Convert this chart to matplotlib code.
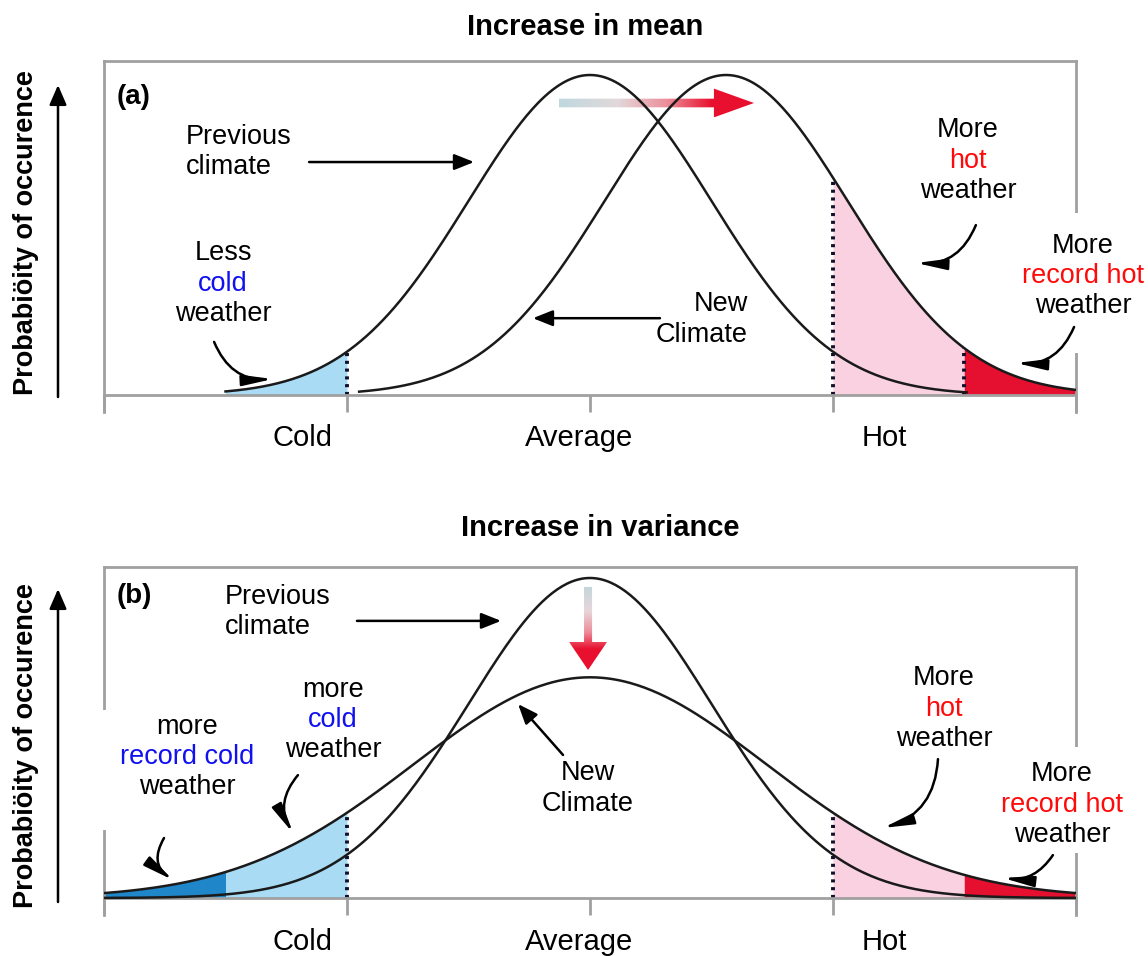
import numpy as np
import matplotlib
matplotlib.use('Agg')
import matplotlib.pyplot as plt
from matplotlib.patches import Polygon, Rectangle
from matplotlib.colors import LinearSegmentedColormap

plt.rcParams['font.family'] = ['Liberation Sans', 'DejaVu Sans']

# ---------------- data ----------------
tick_positions = [-2, -1, 0, 1, 2]
tick_labels = ['Cold', 'Average', 'Hot']
panel_titles = ['Increase in mean', 'Increase in variance']
panel_letters = ['(a)', '(b)']
ylabel_text = 'Probabiöity of occurence'

# bell curves: (mean, standard deviation) in tick units
prev_mean, prev_sd = 0.0, 0.5
new_mean_a, new_sd_a = 0.56, 0.5
new_mean_b, new_sd_b = 0.0, 0.725
# drawn extent of each curve
prev_span_a = (-1.5, 1.55)
new_span_a = (-0.95, 2.0)
span_b = (-2.0, 2.0)
# thresholds
cold_thr, hot_thr = -1.0, 1.0
record_cold_thr, record_hot_thr = -1.5, 1.54

# colours
LIGHT_BLUE = '#a9dcf4'
DARK_BLUE = '#1f87c9'
PINK = '#f9d1e1'
RED = '#e5102f'
TXT_BLUE = '#1010f0'
TXT_RED = '#ff0a0a'
GRAY = '#a0a0a0'
INK = '#1a1a1a'


def bell(x, mu, sd):
    return (prev_sd / sd) * np.exp(-0.5 * ((x - mu) / sd) ** 2)


W, H = 1148, 956
fig = plt.figure(figsize=(W / 100, H / 100), dpi=100)
fig.patch.set_facecolor('white')

ax_a = fig.add_axes([104 / W, 1 - 412 / H, 972 / W, 351 / H])
ax_b = fig.add_axes([104 / W, 1 - 915 / H, 972 / W, 348 / H])
ax_a.set_ylim(-17 / 320, 334 / 320)
ax_b.set_ylim(-17 / 320, 331 / 320)

for ax in (ax_a, ax_b):
    ax.set_xlim(-2, 2)
    for s in ['top', 'left', 'right', 'bottom']:
        ax.spines[s].set_color(GRAY)
        ax.spines[s].set_linewidth(2)
    ax.spines['bottom'].set_position(('data', 0))
    ax.set_xticks(tick_positions)
    ax.set_xticklabels([])
    ax.tick_params(axis='x', direction='out', length=12, width=2, color=GRAY)
    ax.set_yticks([])


def fill(ax, x0, x1, mu, sd, color):
    xs = np.linspace(x0, x1, 200)
    ax.fill_between(xs, 0, bell(xs, mu, sd), color=color, lw=0, zorder=1)


def dotted(ax, x, mu, sd):
    ax.plot([x, x], [0, bell(x, mu, sd)], color='#10102a', lw=2.8,
            ls=(0, (0.8, 1.2)), zorder=2, solid_capstyle='butt')


def curve(ax, span, mu, sd):
    xs = np.linspace(span[0], span[1], 400)
    ax.plot(xs, bell(xs, mu, sd), color=INK, lw=1.8, zorder=3)


def lines_text(ax, x, ys, parts, ha='center', size=19.5):
    for (txt, col), y in zip(parts, ys):
        ax.text(x, y, txt, color=col, ha=ha, va='center', fontsize=size,
                zorder=5)


def arrow(ax, start, tip, rad=0.0, curved=True):
    if curved:
        style = '-|>,head_length=0.9,head_width=0.16'
    else:
        style = '-|>,head_length=0.6,head_width=0.24'
    ax.annotate('', xy=tip, xytext=start,
                arrowprops=dict(arrowstyle=style, color='black', lw=1.8,
                                mutation_scale=20, shrinkA=0, shrinkB=0,
                                connectionstyle=f'arc3,rad={rad}'),
                zorder=5)


def white_box(ax, x, y, w, h):
    ax.add_patch(Rectangle((x, y), w, h, facecolor='white', edgecolor='none',
                           zorder=2.6, clip_on=False))


# ---------------- panel (a) ----------------
fill(ax_a, prev_span_a[0], cold_thr, prev_mean, prev_sd, LIGHT_BLUE)
fill(ax_a, hot_thr, record_hot_thr, new_mean_a, new_sd_a, PINK)
fill(ax_a, record_hot_thr, 2.0, new_mean_a, new_sd_a, RED)
dotted(ax_a, cold_thr, prev_mean, prev_sd)
dotted(ax_a, hot_thr, new_mean_a, new_sd_a)
dotted(ax_a, record_hot_thr, new_mean_a, new_sd_a)
curve(ax_a, prev_span_a, prev_mean, prev_sd)
curve(ax_a, new_span_a, new_mean_a, new_sd_a)
white_box(ax_a, 1.80, 0.131, 0.5, 0.438)

# gradient arrow (shift of mean)
x0, xh, x1, yc, sh, hh = -0.128, 0.51, 0.675, 0.9125, 0.0135, 0.045
poly = Polygon([(x0, yc - sh), (xh, yc - sh), (xh, yc - hh), (x1, yc),
                (xh, yc + hh), (xh, yc + sh), (x0, yc + sh)], closed=True,
               facecolor='none', edgecolor='none')
ax_a.add_patch(poly)
cmap_h = LinearSegmentedColormap.from_list(
    'gh', [(0, '#bfd9df'), (0.3, '#e2d8da'), (0.55, '#ec8f9b'),
           (0.78, '#e8102e'), (1, '#e8102e')])
im = ax_a.imshow(np.linspace(0, 1, 256)[None, :], extent=[x0, x1, yc - hh, yc + hh],
                 aspect='auto', cmap=cmap_h, origin='lower', zorder=2.8,
                 interpolation='bilinear')
im.set_clip_path(poly)
ax_a.set_xlim(-2, 2)
ax_a.set_ylim(-17 / 320, 334 / 320)

lines_text(ax_a, -1.663, [0.806, 0.7125], [('Previous', 'black'), ('climate', 'black')], ha='left')
arrow(ax_a, (-1.156, 0.728), (-0.477, 0.728), curved=False)
lines_text(ax_a, 0.65, [0.284, 0.1875], [('New', 'black'), ('Climate', 'black')], ha='right')
arrow(ax_a, (0.288, 0.24), (-0.235, 0.24), curved=False)
lines_text(ax_a, -1.51, [0.444, 0.347, 0.253],
           [('Less', 'black'), ('cold', TXT_BLUE), ('weather', 'black')])
arrow(ax_a, (-1.547, 0.166), (-1.305, 0.05), rad=0.35)
lines_text(ax_a, 1.556, [0.828, 0.731, 0.6375],
           [('More', 'black'), ('hot', TXT_RED), ('weather', 'black')])
arrow(ax_a, (1.588, 0.531), (1.342, 0.4125), rad=-0.35)
lines_text(ax_a, 2.029, [0.466, 0.372, 0.278],
           [('More', 'black'), ('record hot', TXT_RED), ('weather', 'black')])
arrow(ax_a, (1.992, 0.2125), (1.753, 0.10), rad=-0.35)
ax_a.text(-1.95, 0.931, panel_letters[0], fontsize=20, fontweight='bold',
          ha='left', va='center', zorder=5)
ax_a.text(-1.185, -0.134, tick_labels[0], fontsize=21, ha='center', va='center')
ax_a.text(-0.045, -0.134, tick_labels[1], fontsize=21, ha='center', va='center')
ax_a.text(1.21, -0.134, tick_labels[2], fontsize=21, ha='center', va='center')

# ---------------- panel (b) ----------------
fill(ax_b, -2.0, record_cold_thr, new_mean_b, new_sd_b, DARK_BLUE)
fill(ax_b, record_cold_thr, cold_thr, new_mean_b, new_sd_b, LIGHT_BLUE)
fill(ax_b, hot_thr, record_hot_thr, new_mean_b, new_sd_b, PINK)
fill(ax_b, record_hot_thr, 2.0, new_mean_b, new_sd_b, RED)
dotted(ax_b, cold_thr, new_mean_b, new_sd_b)
dotted(ax_b, hot_thr, new_mean_b, new_sd_b)
curve(ax_b, span_b, prev_mean, prev_sd)
curve(ax_b, span_b, new_mean_b, new_sd_b)
white_box(ax_b, 1.74, 0.14, 0.6, 0.332)
white_box(ax_b, -2.12, 0.2125, 0.81, 0.375)

xc, yt, yh, ytip, sw, hw = -0.008, 0.972, 0.80, 0.7125, 0.0165, 0.078
poly_v = Polygon([(xc - sw, yt), (xc - sw, yh), (xc - hw, yh), (xc, ytip),
                  (xc + hw, yh), (xc + sw, yh), (xc + sw, yt)], closed=True,
                 facecolor='none', edgecolor='none')
ax_b.add_patch(poly_v)
cmap_v = LinearSegmentedColormap.from_list(
    'gv', [(0, '#c3d6dc'), (0.3, '#e6d6da'), (0.55, '#ee8c9a'),
           (0.75, '#e8102e'), (1, '#e8102e')])
im_v = ax_b.imshow(np.linspace(1, 0, 256)[:, None], extent=[xc - hw, xc + hw, ytip, yt],
                   aspect='auto', cmap=cmap_v, origin='lower', zorder=2.8,
                   interpolation='bilinear')
im_v.set_clip_path(poly_v)
ax_b.set_xlim(-2, 2)
ax_b.set_ylim(-17 / 320, 331 / 320)

lines_text(ax_b, -1.502, [0.941, 0.847], [('Previous', 'black'), ('climate', 'black')], ha='left')
arrow(ax_b, (-0.959, 0.866), (-0.366, 0.866), curved=False)
lines_text(ax_b, -0.008, [0.391, 0.294], [('New', 'black'), ('Climate', 'black')])
arrow(ax_b, (-0.111, 0.447), (-0.296, 0.606), curved=False)
lines_text(ax_b, -1.058, [0.65, 0.556, 0.4625],
           [('more', 'black'), ('cold', TXT_BLUE), ('weather', 'black')])
arrow(ax_b, (-1.202, 0.384), (-1.222, 0.203), rad=0.35)
lines_text(ax_b, -1.658, [0.534, 0.441, 0.347],
           [('more', 'black'), ('record cold', TXT_BLUE), ('weather', 'black')])
arrow(ax_b, (-1.753, 0.1875), (-1.716, 0.056), rad=0.45)
lines_text(ax_b, 1.457, [0.6875, 0.591, 0.497],
           [('More', 'black'), ('hot', TXT_RED), ('weather', 'black')])
arrow(ax_b, (1.432, 0.434), (1.206, 0.219), rad=-0.35)
lines_text(ax_b, 1.942, [0.3875, 0.29, 0.197],
           [('More', 'black'), ('record hot', TXT_RED), ('weather', 'black')])
arrow(ax_b, (1.905, 0.134), (1.70, 0.0625), rad=-0.3)
ax_b.text(-1.95, 0.944, panel_letters[1], fontsize=20, fontweight='bold',
          ha='left', va='center', zorder=5)
ax_b.text(-1.185, -0.1375, tick_labels[0], fontsize=21, ha='center', va='center')
ax_b.text(-0.045, -0.1375, tick_labels[1], fontsize=21, ha='center', va='center')
ax_b.text(1.21, -0.1375, tick_labels[2], fontsize=21, ha='center', va='center')

# ---------------- figure-level text ----------------
fig.text(585 / W, 1 - 27 / H, panel_titles[0], ha='center', va='center',
         fontsize=21, fontweight='bold')
fig.text(600 / W, 1 - 528 / H, panel_titles[1], ha='center', va='center',
         fontsize=21, fontweight='bold')
for yc_px in (233, 746):
    fig.text(26 / W, 1 - yc_px / H, ylabel_text, rotation=90, ha='center',
             va='center', fontsize=19.5, fontweight='bold')
for (yb, yt_px) in ((397, 85), (902, 589)):
    ax_a.annotate('', xy=(58 / W, 1 - yt_px / H), xytext=(58 / W, 1 - yb / H),
                  xycoords='figure fraction', textcoords='figure fraction',
                  annotation_clip=False,
                  arrowprops=dict(arrowstyle='-|>,head_length=0.6,head_width=0.26',
                                  color='black', lw=1.8, mutation_scale=20,
                                  shrinkA=0, shrinkB=0))

fig.savefig('out.png', dpi=100)
